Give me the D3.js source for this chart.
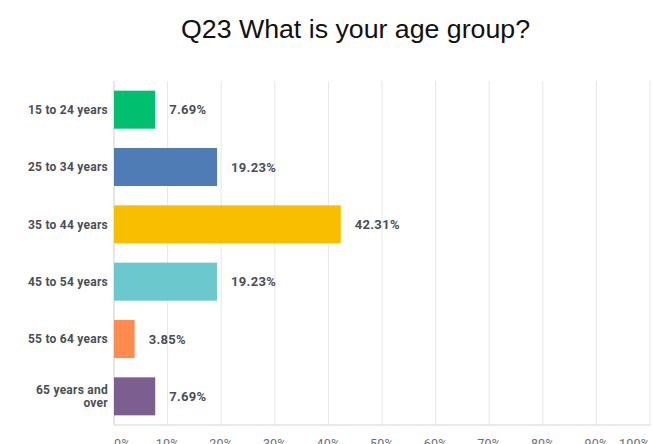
<!DOCTYPE html>
<html>
<head>
<meta charset="utf-8">
<script src="https://cdn.jsdelivr.net/npm/d3@7"></script>
<style>
  html, body { margin: 0; padding: 0; background: #ffffff; }
  svg { display: block; }
</style>
</head>
<body>
<svg id="chart" width="653" height="444"></svg>
<script>
// Survey responses: share of respondents per age group
const categories = ["15 to 24 years", "25 to 34 years", "35 to 44 years", "45 to 54 years", "55 to 64 years", "65 years and over"];
const values = [7.69, 19.23, 42.31, 19.23, 3.85, 7.69];
const barColors = ["#00bf6f", "#507cb6", "#f9be00", "#6bc8cd", "#ff8b4f", "#7d5e90"];
const tickValues = [0, 10, 20, 30, 40, 50, 60, 70, 80, 90, 100];
const tickLabels = ["0%", "10%", "20%", "30%", "40%", "50%", "60%", "70%", "80%", "90%", "100%"];
const title = "Q23 What is your age group?";

const svg = d3.select("#chart");
const plotLeft = 114, plotRight = 650, plotTop = 81, plotBottom = 425;

const x = d3.scaleLinear().domain([0, 100]).range([plotLeft, plotRight]);
const y = d3.scaleBand().domain(categories).range([plotTop, plotBottom]).paddingInner(0.337).paddingOuter(0.1685);

// Title
svg.append("text")
  .attr("x", 355.5).attr("y", 38)
  .attr("text-anchor", "middle")
  .attr("font-family", "'Liberation Sans', Arial, sans-serif")
  .attr("font-size", 25.5)
  .attr("fill", "#111")
  .attr("textLength", 349).attr("lengthAdjust", "spacingAndGlyphs")
  .text(title);

// Vertical gridlines
svg.append("g").selectAll("line").data(tickValues.slice(1)).join("line")
  .attr("x1", d => x(d)).attr("x2", d => x(d))
  .attr("y1", plotTop).attr("y2", plotBottom)
  .attr("stroke", "#e6e6e6").attr("stroke-width", 1);

// Baseline and left axis line
svg.append("line").attr("x1", plotLeft).attr("x2", plotRight).attr("y1", plotBottom).attr("y2", plotBottom)
  .attr("stroke", "#d6d6d6").attr("stroke-width", 1.2);
svg.append("line").attr("x1", plotLeft).attr("x2", plotLeft).attr("y1", plotTop).attr("y2", plotBottom)
  .attr("stroke", "#d6d6d6").attr("stroke-width", 1.2);

// Bars
svg.append("g").selectAll("rect").data(values).join("rect")
  .attr("x", x(0))
  .attr("y", (d, i) => y(categories[i]))
  .attr("width", d => x(d) - x(0))
  .attr("height", y.bandwidth())
  .attr("fill", (d, i) => barColors[i]);

// Value labels
svg.append("g").selectAll("text").data(values).join("text")
  .attr("x", d => x(d) + 14)
  .attr("y", (d, i) => y(categories[i]) + y.bandwidth() / 2)
  .attr("dy", "0.36em")
  .attr("font-family", "Roboto, 'Open Sans', sans-serif")
  .attr("font-weight", 700)
  .attr("font-size", 13)
  .attr("letter-spacing", 0.3)
  .attr("fill", "#4a4f55")
  .text(d => d.toFixed(2) + "%");

// Category labels (wrapped where needed)
const labelLines = c => c === "65 years and over" ? ["65 years and", "over"] : [c];
const catG = svg.append("g");
categories.forEach(c => {
  const lines = labelLines(c);
  const cy = y(c) + y.bandwidth() / 2;
  const t = catG.append("text")
    .attr("x", 108)
    .attr("text-anchor", "end")
    .attr("font-family", "Roboto, 'Open Sans', sans-serif")
    .attr("font-weight", 700)
    .attr("font-size", 12)
    .attr("letter-spacing", 0.25)
    .attr("fill", "#4a4f55");
  lines.forEach((ln, k) => {
    t.append("tspan")
      .attr("x", 108)
      .attr("y", cy + (k - (lines.length - 1) / 2) * 13.5)
      .attr("dy", "0.36em")
      .text(ln);
  });
});

// X tick labels
svg.append("g").selectAll("text").data(tickValues).join("text")
  .attr("x", d => x(d))
  .attr("y", 448)
  .attr("text-anchor", (d, i) => i === 0 ? "start" : (i === tickValues.length - 1 ? "end" : "middle"))
  .attr("font-family", "Roboto, 'Open Sans', sans-serif")
  .attr("font-size", 12.5)
  .attr("letter-spacing", 0.2)
  .attr("fill", "#6b6f75")
  .text((d, i) => tickLabels[i]);
</script>
</body>
</html>
